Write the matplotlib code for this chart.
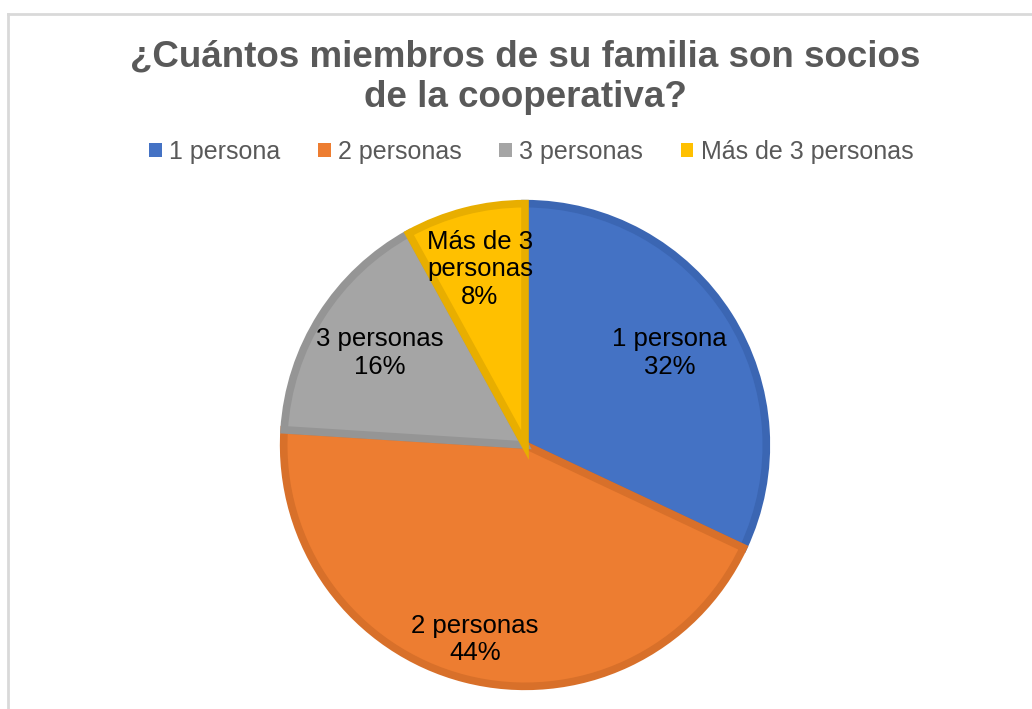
import matplotlib.pyplot as plt
import numpy as np
from matplotlib.lines import Line2D
from matplotlib.patches import Patch

plt.rcParams['font.family'] = ['Liberation Sans', 'DejaVu Sans']

categories = ["1 persona", "2 personas", "3 personas", "Más de 3 personas"]
slice_labels = ["1 persona", "2 personas", "3 personas", "Más de 3\npersonas"]
values = [32, 44, 16, 8]

colors = ["#4472C4", "#ED7D31", "#A5A5A5", "#FFC000"]
edges = ["#3B66B3", "#D8702A", "#959595", "#E8AE00"]
label_dist = [0.70, 0.82, 0.70, 0.74]

fig = plt.figure(figsize=(10.32, 7.09), dpi=100)

# chart frame (only top and left visible in the crop)
fig.add_artist(Line2D([8 / 1032, 1], [1 - 14 / 709, 1 - 14 / 709], color="#D9D9D9", lw=2))
fig.add_artist(Line2D([8 / 1032, 8 / 1032], [0, 1 - 14 / 709], color="#D9D9D9", lw=2))

cx, cy, r = 525, 445, 245
ax = fig.add_axes([(cx - r) / 1032, (709 - cy - r) / 709, 2 * r / 1032, 2 * r / 709])

wedges, _ = ax.pie(values, colors=colors, startangle=90, counterclock=False,
                   radius=0.985,
                   wedgeprops=dict(linewidth=5.5, joinstyle="miter"))
for w, ec in zip(wedges, edges):
    w.set_edgecolor(ec)
ax.set_xlim(-1, 1)
ax.set_ylim(-1, 1)
ax.set_aspect("auto")
ax.axis("off")

for w, lab, v, d in zip(wedges, slice_labels, values, label_dist):
    ang = np.deg2rad((w.theta1 + w.theta2) / 2)
    ax.text(d * np.cos(ang), d * np.sin(ang), f"{lab}\n{v}%", ha="center", va="center",
            fontsize=18.5, color="black", linespacing=1.2)

fig.text(0.5087, 1 - 77 / 709, "¿Cuántos miembros de su familia son socios\nde la cooperativa?",
         ha="center", va="center", fontsize=26.5, fontweight="bold", color="#595959",
         linespacing=1.2)

handles = [Patch(facecolor=c, edgecolor="none") for c in colors]
fig.legend(handles, categories, loc="center", bbox_to_anchor=(0.515, 1 - 152 / 709), ncol=4,
           frameon=False, fontsize=18, handlelength=0.5, handleheight=0.5,
           handletextpad=0.3, columnspacing=1.5, labelcolor="#595959")

fig.savefig("out.png", dpi=100)
